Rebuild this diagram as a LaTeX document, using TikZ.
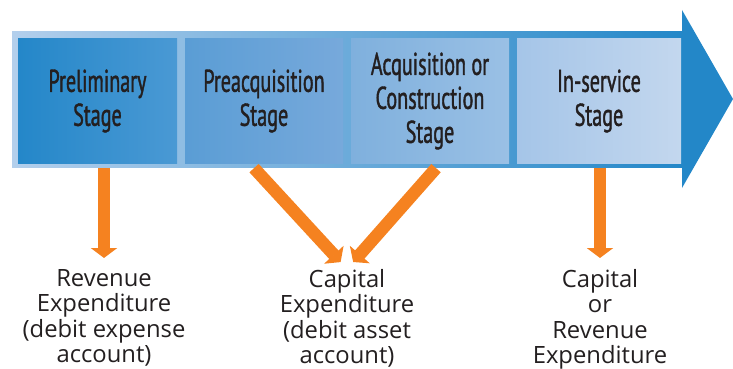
\documentclass[tikz,border=0pt]{standalone}
\usepackage{fontspec}
\setmainfont{Open Sans}
\newfontfamily\stagefont[FakeStretch=0.64, FakeBold=1.2]{PT Sans}
\usepackage{tikz}
\usetikzlibrary{arrows.meta}
\usepackage{xcolor}

\definecolor{bandlight}{HTML}{B3CFEC}
\definecolor{banddark}{HTML}{2387C8}
\definecolor{ink}{HTML}{231F20}
\definecolor{flowor}{HTML}{F58220}

\begin{document}
\begin{tikzpicture}[
  x=1pt, y=-1pt,
  stagebox/.style={minimum height=124pt, inner sep=0pt, align=center,
    text=ink, font=\stagefont\fontsize{31.5}{34}\selectfont},
  outcome/.style={anchor=north, inner sep=0pt, align=center,
    text=ink, font=\fontsize{23.8}{25.5}\selectfont},
  flow/.style={line width=12.5pt, draw=flowor,
    -{Triangle[length=10pt, width=26pt]}},
  ]
  \def\Bl{12}
  \def\Br{683}
  \def\Bt{32}
  \def\Bb{167}

  \useasboundingbox (0, 0) rectangle (733, 369);

  % Band and arrow head
  \fill[left color=bandlight, right color=banddark] (\Bl, \Bt) rectangle (\Br, \Bb);
  \fill[banddark] (\Br - 1, 10) -- (733, 99) -- (\Br - 1, 188) -- cycle;

  % Stages
  \node[stagebox, minimum width=159pt, left color={rgb,255:red,36;green,135;blue,201},
    right color={rgb,255:red,74;green,153;blue,212}] (prelim) at (97.5, 101)
    {Preliminary\\Stage};
  \node[stagebox, minimum width=158pt, left color={rgb,255:red,90;green,157;blue,213},
    right color={rgb,255:red,119;green,169;blue,219}] (preacq) at (264, 101)
    {Preacquisition\\Stage};
  \node[stagebox, minimum width=158pt, left color={rgb,255:red,127;green,176;blue,221},
    right color={rgb,255:red,154;green,192;blue,229}] (acq) at (430, 101)
    {Acquisition or\\Construction\\Stage};
  \node[stagebox, minimum width=164pt, left color={rgb,255:red,165;green,197;blue,232},
    right color={rgb,255:red,195;green,215;blue,238}] (inserv) at (599, 101)
    {In-service\\Stage};

  % Outcomes
  \node[outcome] (rev) at (104, 269) {Revenue\\Expenditure\\(debit expense\\account)};
  \node[outcome] (capex) at (347, 269) {Capital\\Expenditure\\(debit asset\\account)};
  \node[outcome] (either) at (600, 269) {Capital\\or\\Revenue\\Expenditure};

  % Flows
  \draw[flow, shorten <=5pt, shorten >=11pt] (prelim.south -| rev.north) -- (rev.north);
  \draw[flow, shorten <=6.7pt, shorten >=9.4pt] ([xshift=-14.5pt]preacq.south) -- (capex.north);
  \draw[flow, shorten <=6.6pt, shorten >=9.3pt] ([xshift=10.4pt]acq.south) -- (capex.north);
  \draw[flow, shorten <=5pt, shorten >=11pt] (inserv.south -| either.north) -- (either.north);
\end{tikzpicture}
\end{document}
